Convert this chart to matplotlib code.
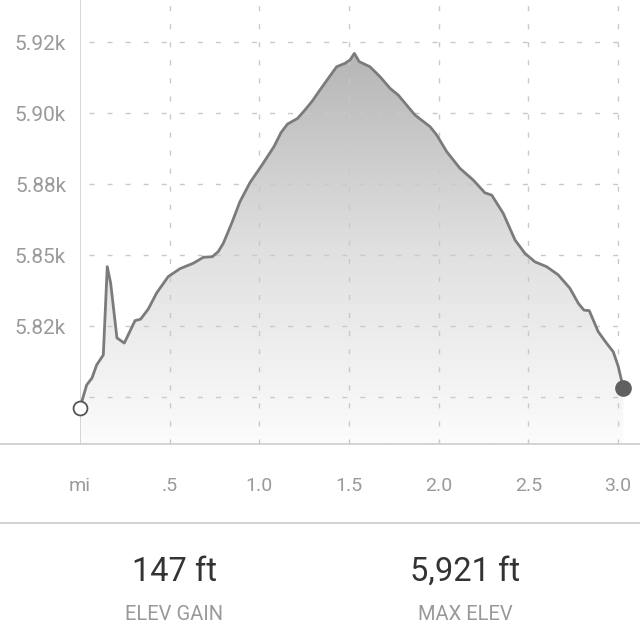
import matplotlib
matplotlib.use('Agg')
import matplotlib.pyplot as plt
import numpy as np
from matplotlib.patches import Polygon
from matplotlib.colors import LinearSegmentedColormap
from matplotlib.transforms import blended_transform_factory

plt.rcParams['font.family'] = ['Roboto', 'DejaVu Sans']
plt.rcParams['lines.scale_dashes'] = False

# distance along the trail (mi) and elevation (ft)
distance = [0.000, 0.018, 0.037, 0.067, 0.093, 0.130, 0.152, 0.171, 0.206, 0.247,
            0.307, 0.338, 0.381, 0.428, 0.492, 0.558, 0.632, 0.688, 0.738, 0.771,
            0.799, 0.846, 0.892, 0.948, 1.015, 1.082, 1.121, 1.157, 1.213, 1.255,
            1.294, 1.338, 1.431, 1.478, 1.506, 1.530, 1.557, 1.617, 1.673, 1.729,
            1.775, 1.868, 1.952, 1.989, 2.045, 2.119, 2.193, 2.258, 2.296, 2.360,
            2.426, 2.481, 2.537, 2.602, 2.667, 2.732, 2.779, 2.810, 2.840, 2.890,
            2.937, 2.974, 3.002, 3.030]
elevation = [5796.2, 5800.1, 5804.2, 5806.7, 5811.3, 5814.8, 5845.9, 5840.1, 5820.8, 5819.0,
             5826.9, 5827.4, 5831.0, 5836.7, 5842.4, 5845.2, 5847.1, 5849.2, 5849.4, 5851.2,
             5854.1, 5861.2, 5868.8, 5875.5, 5881.7, 5888.2, 5893.1, 5896.1, 5898.1, 5901.1,
             5904.1, 5908.1, 5916.3, 5917.5, 5918.7, 5921.0, 5918.1, 5916.3, 5912.8, 5908.7,
             5906.3, 5899.3, 5895.2, 5892.3, 5886.4, 5880.5, 5876.4, 5871.9, 5871.1, 5864.7,
             5855.3, 5850.6, 5847.6, 5845.9, 5843.0, 5838.3, 5833.0, 5830.6, 5830.4, 5823.0,
             5818.9, 5815.9, 5810.7, 5803.1]

y_ticks = [5800, 5825, 5850, 5875, 5900, 5925]
y_tick_labels = ['', '5.82k', '5.85k', '5.88k', '5.90k', '5.92k']
x_ticks = [0, 0.5, 1.0, 1.5, 2.0, 2.5, 3.0]
x_tick_labels = ['mi', '.5', '1.0', '1.5', '2.0', '2.5', '3.0']

stat_values = ['147 ft', '5,921 ft']
stat_names = ['ELEV GAIN', 'MAX ELEV']

x_min, x_max = 0, 3.123
y_min, y_max = 5783.45, 5939.8

fig = plt.figure(figsize=(6.4, 6.4), dpi=100)
ax = fig.add_axes([80 / 640, 196 / 640, 560 / 640, 444 / 640])

grid_color = '#c9c9c9'
dash = (0, (3.6, 9.4))

# gradient fill under the profile
grad = np.linspace(0, 1, 256).reshape(-1, 1)
cmap = LinearSegmentedColormap.from_list('elev', ['#fcfcfc', '#e0e0e0', '#b6b6b6'])
im = ax.imshow(grad, extent=[distance[0], distance[-1], y_min, max(elevation)],
               origin='lower', aspect='auto', cmap=cmap, zorder=1)
verts = list(zip(distance, elevation)) + [(distance[-1], y_min), (distance[0], y_min)]
clip = Polygon(verts, closed=True, facecolor='none', edgecolor='none')
ax.add_patch(clip)
im.set_clip_path(clip)

# grid
ax.hlines(y_ticks, 0.05, distance[-1], colors=grid_color, linewidth=1.0,
          linestyles=[dash], zorder=2)
ax.vlines(x_ticks[1:], y_min, y_max, colors=grid_color, linewidth=1.0,
          linestyles=[dash], zorder=2)
ax.axvline(0, color='#cfcfcf', linewidth=1.2, zorder=2)

# profile line and end markers
ax.plot(distance, elevation, color='#7b7b7b', linewidth=2.0, zorder=3,
        solid_joinstyle='round')
ax.plot(distance[0], elevation[0], 'o', markersize=10, markerfacecolor='white',
        markeredgecolor='#555555', markeredgewidth=1.3, zorder=4, clip_on=False)
ax.plot(distance[-1], elevation[-1], 'o', markersize=11, markerfacecolor='#606060',
        markeredgecolor='#606060', zorder=4, clip_on=False)

ax.set_xlim(x_min, x_max)
ax.set_ylim(y_min, y_max)
for s in ax.spines.values():
    s.set_visible(False)

ax.set_yticks(y_ticks)
ax.set_yticklabels(y_tick_labels)
ax.tick_params(axis='y', length=0, pad=10, labelsize=15, labelcolor='#9a9a9a')
ax.set_xticks([])

trans = blended_transform_factory(ax.transData, fig.transFigure)
for x, lab in zip(x_ticks, x_tick_labels):
    ax.text(x, 1 - 486 / 640, lab, transform=trans, ha='center', va='center',
            fontsize=14, color='#9a9a9a')

# separators
fig.add_artist(plt.Line2D([0, 1], [1 - 444 / 640] * 2, color='#cccccc', linewidth=1.2))
fig.add_artist(plt.Line2D([0, 1], [1 - 523 / 640] * 2, color='#cccccc', linewidth=1.2))

# stats
for cx, val, name in zip([174 / 640, 465 / 640], stat_values, stat_names):
    fig.text(cx, 1 - 572 / 640, val, ha='center', va='center', fontsize=23.5,
             color='#333333')
    fig.text(cx, 1 - 615 / 640, name, ha='center', va='center', fontsize=14.5,
             color='#999999')

fig.savefig('out.png', dpi=100, facecolor='white')
